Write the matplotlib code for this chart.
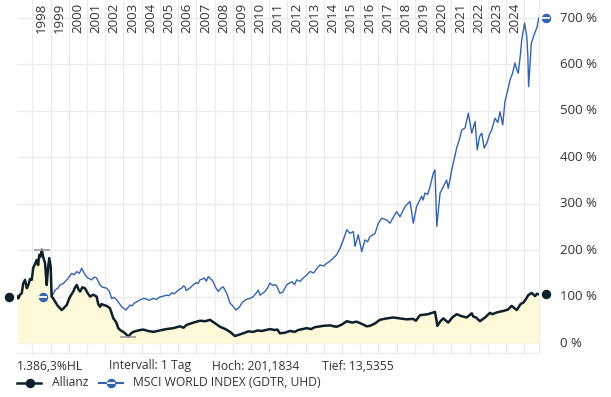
import matplotlib
matplotlib.use("Agg")
import matplotlib.pyplot as plt
import matplotlib.transforms as mtransforms
from matplotlib.lines import Line2D

#######################################################
# data (decimal years, % of start value)

allianz_t = [1997.18, 1997.23, 1997.32, 1997.42, 1997.50, 1997.60, 1997.70, 1997.78, 1997.88, 1997.97,
             1998.05, 1998.15, 1998.24, 1998.32, 1998.38, 1998.45, 1998.52, 1998.60, 1998.70, 1998.79,
             1998.86, 1998.93, 1999.01, 1999.06, 1999.15, 1999.25, 1999.40, 1999.61, 1999.75, 1999.89,
             2000.05, 2000.25, 2000.35, 2000.44, 2000.53, 2000.62, 2000.75, 2000.89, 2001.03, 2001.17,
             2001.35, 2001.53, 2001.62, 2001.72, 2001.80, 2001.90, 2002.08, 2002.26, 2002.45, 2002.60,
             2002.72, 2002.85, 2002.99, 2003.15, 2003.27, 2003.40, 2003.54, 2003.80, 2004.09, 2004.35,
             2004.64, 2005.00, 2005.35, 2005.74, 2006.10, 2006.30, 2006.47, 2006.85, 2007.20, 2007.50,
             2007.75, 2008.05, 2008.30, 2008.60, 2008.85, 2009.12, 2009.35, 2009.58, 2009.85, 2010.13,
             2010.35, 2010.60, 2011.04, 2011.30, 2011.45, 2011.59, 2011.85, 2012.14, 2012.40, 2012.60,
             2013.06, 2013.30, 2013.50, 2013.97, 2014.35, 2014.55, 2014.71, 2015.00, 2015.26, 2015.55,
             2015.80, 2016.15, 2016.35, 2016.53, 2016.80, 2017.08, 2017.45, 2017.81, 2018.20, 2018.55,
             2018.90, 2019.05, 2019.28, 2019.70, 2020.10, 2020.18, 2020.23, 2020.40, 2020.56, 2020.83,
             2021.05, 2021.29, 2021.55, 2021.84, 2022.12, 2022.20, 2022.35, 2022.57, 2022.85, 2023.12,
             2023.25, 2023.50, 2023.85, 2024.10, 2024.31, 2024.59, 2024.80, 2024.95, 2025.10, 2025.22,
             2025.41, 2025.59, 2025.70, 2025.80]
allianz_v = [100, 96, 104, 107, 128, 136, 118, 125, 138, 136,
             162, 170, 179, 168, 190, 186, 201, 185, 172, 125,
             160, 183, 164, 100, 96, 89, 80, 71, 76, 82,
             98, 111, 120, 125, 116, 111, 120, 118, 108, 100,
             104, 100, 84, 78, 84, 82, 80, 75, 53, 45,
             32, 27, 24, 19, 13.5, 20, 24, 27, 29, 26,
             24, 27, 30, 32, 36, 33, 39, 44, 48, 47,
             50, 42, 35, 30, 24, 15, 18, 21, 25, 24,
             27, 26, 30, 28, 29, 21, 22, 26, 24, 28,
             32, 30, 34, 37, 38, 36, 35, 40, 47, 44,
             46, 40, 36, 37, 42, 50, 53, 55, 53, 51,
             52, 48, 60, 62, 67, 50, 37, 47, 53, 44,
             55, 62, 58, 55, 64, 57, 55, 47, 55, 65,
             62, 66, 69, 72, 80, 71, 84, 87, 95, 103,
             108, 101, 106, 105]

msci_t = [1999.06, 1999.15, 1999.25, 1999.40, 1999.52, 1999.70, 1999.89, 2000.02, 2000.16, 2000.30,
          2000.44, 2000.58, 2000.71, 2000.89, 2001.05, 2001.26, 2001.40, 2001.53, 2001.70, 2001.81,
          2002.08, 2002.22, 2002.36, 2002.50, 2002.63, 2002.78, 2002.91, 2003.14, 2003.25, 2003.36,
          2003.48, 2003.60, 2003.75, 2003.91, 2004.10, 2004.25, 2004.40, 2004.64, 2004.80, 2005.00,
          2005.20, 2005.38, 2005.50, 2005.65, 2005.80, 2005.93, 2006.05, 2006.20, 2006.30, 2006.38,
          2006.45, 2006.56, 2006.70, 2006.85, 2007.00, 2007.10, 2007.20, 2007.35, 2007.45, 2007.55,
          2007.66, 2007.80, 2007.93, 2008.05, 2008.21, 2008.35, 2008.48, 2008.67, 2008.85, 2009.00,
          2009.18, 2009.38, 2009.50, 2009.58, 2009.70, 2009.85, 2010.00, 2010.13, 2010.30, 2010.40,
          2010.50, 2010.60, 2010.77, 2010.90, 2011.04, 2011.20, 2011.30, 2011.41, 2011.59, 2011.75,
          2011.96, 2012.10, 2012.25, 2012.40, 2012.51, 2012.70, 2012.87, 2013.05, 2013.24, 2013.45,
          2013.60, 2013.79, 2014.00, 2014.16, 2014.30, 2014.52, 2014.70, 2014.89, 2015.07, 2015.26,
          2015.44, 2015.62, 2015.71, 2015.89, 2016.08, 2016.26, 2016.40, 2016.53, 2016.81, 2016.99,
          2017.18, 2017.45, 2017.63, 2017.80, 2018.00, 2018.18, 2018.46, 2018.73, 2018.91, 2019.09,
          2019.37, 2019.45, 2019.55, 2019.70, 2019.83, 2020.01, 2020.10, 2020.20, 2020.38, 2020.60,
          2020.74, 2020.83, 2021.02, 2021.15, 2021.29, 2021.45, 2021.57, 2021.75, 2021.93, 2022.12,
          2022.30, 2022.42, 2022.55, 2022.67, 2022.80, 2022.94, 2023.10, 2023.21, 2023.40, 2023.55,
          2023.67, 2023.82, 2023.94, 2024.10, 2024.22, 2024.35, 2024.49, 2024.58, 2024.67, 2024.80,
          2024.86, 2025.02, 2025.14, 2025.20, 2025.24, 2025.39, 2025.57, 2025.70, 2025.80]
msci_v = [100, 106, 114, 118, 125, 128, 136, 142, 150, 147,
          154, 150, 161, 147, 140, 136, 142, 140, 126, 121,
          118, 112, 96, 98, 93, 85, 78, 71, 76, 82,
          80, 86, 89, 93, 96, 95, 92, 96, 94, 99,
          101, 103, 102, 108, 106, 111, 115, 118, 123, 121,
          113, 116, 120, 126, 130, 128, 136, 138, 140, 133,
          143, 138, 132, 120, 111, 118, 121, 107, 86, 80,
          71, 78, 86, 89, 93, 95, 97, 100, 108, 114,
          103, 106, 111, 118, 129, 124, 126, 123, 107, 110,
          125, 129, 132, 126, 136, 133, 140, 146, 154, 151,
          160, 168, 166, 172, 175, 183, 190, 204, 222, 244,
          236, 240, 208, 233, 197, 222, 218, 229, 236, 258,
          269, 265, 258, 270, 283, 272, 294, 305, 258, 294,
          316, 308, 323, 320, 337, 366, 373, 251, 323, 340,
          351, 333, 373, 395, 420, 440, 459, 463, 495, 452,
          477, 416, 445, 452, 420, 430, 450, 459, 484, 475,
          498, 470, 520, 545, 567, 580, 603, 590, 581, 625,
          653, 689, 660, 617, 552, 646, 667, 680, 700]

year_labels = list(range(1998, 2025))
pct_ticks = [0, 100, 200, 300, 400, 500, 600, 700]
info_texts = ["1.386,3%HL", "Intervall: 1 Tag", "Hoch: 201,1834", "Tief: 13,5355"]
series_names = ["Allianz", "MSCI WORLD INDEX (GDTR, UHD)"]

#######################################################

W, H = 611, 397
dark = "#0e202c"
blue = "#3363ad"
gridc = "#ebebeb"
textc = "#333333"
plt.rcParams["font.family"] = ["Open Sans", "DejaVu Sans"]

fig = plt.figure(figsize=(W / 100, H / 100), dpi=100)
ax = fig.add_axes([17 / W, 1 - 353 / H, (539 - 17) / W, 353 / H])

ax.set_xlim(1997.16, 2025.81)
ax.set_ylim(-21.5, 738.8)

ax.set_xticks(range(1998, 2026))
ax.set_yticks(pct_ticks)
ax.tick_params(length=0, labelbottom=False, labelleft=False)
ax.grid(True, color=gridc, lw=0.9)
ax.set_axisbelow(True)
for side in ["left", "top"]:
    ax.spines[side].set_visible(False)
for side in ["right", "bottom"]:
    ax.spines[side].set_color(gridc)
    ax.spines[side].set_linewidth(0.9)

# series
ax.fill_between(allianz_t, allianz_v, 0, color="#fdf9d9", lw=0, zorder=1)
ax.plot(msci_t, msci_v, color=blue, lw=1.0, zorder=3)
ax.plot(allianz_t, allianz_v, color=dark, lw=1.8, zorder=4, solid_joinstyle="round")

# high / low marks
i_hi = allianz_v.index(max(allianz_v))
i_lo = allianz_v.index(min(allianz_v))
ax.plot([allianz_t[i_hi], allianz_t[i_lo]], [allianz_v[i_hi], allianz_v[i_lo]],
        ls="none", marker="_", ms=11, mew=1.2, color="#9a9a9a", zorder=5)

# start / end markers
def endMarkers(t, v, color, bar):
    xs = [t[0] - 0.47, t[-1] + 0.4]
    ys = [v[0], v[-1]]
    ax.plot(xs, ys, ls="none", marker="o", ms=5.8, color=color, clip_on=False, zorder=6)
    if bar:
        ax.plot(xs, ys, ls="none", marker="_", ms=5.8, mew=1.3, color="white", clip_on=False, zorder=7)

endMarkers(allianz_t, allianz_v, dark, False)
endMarkers(msci_t, msci_v, blue, True)

# year labels on top
top = mtransforms.blended_transform_factory(ax.transData, fig.transFigure)
for y in year_labels:
    ax.text(y + 0.5, 1 - 3 / H, str(y), rotation=90, ha="center", va="top",
            fontsize=9.5, color=textc, transform=top)

# percent labels on the right
right = mtransforms.blended_transform_factory(fig.transFigure, ax.transData)
for p in pct_ticks:
    ax.text(560 / W, p, "%d %%" % p, ha="left", va="center", fontsize=9.5,
            color=textc, transform=right)

# info line
for txt, px in zip(info_texts, [17, 109, 212, 322]):
    fig.text(px / W, 1 - 366 / H, txt, ha="left", va="center", fontsize=8.7, color=textc)

# legend
ly = 1 - 383 / H
fig.add_artist(Line2D([17 / W, 41 / W], [ly, ly], color=dark, lw=1.8))
fig.add_artist(Line2D([29.5 / W], [ly], marker="o", ms=5.8, color=dark, ls="none"))
fig.text(52 / W, ly, series_names[0], ha="left", va="center", fontsize=8.7, color=textc)
fig.add_artist(Line2D([99 / W, 123 / W], [ly, ly], color=blue, lw=1.5))
fig.add_artist(Line2D([111 / W], [ly], marker="o", ms=5.8, color=blue, ls="none"))
fig.add_artist(Line2D([111 / W], [ly], marker="_", ms=5.8, mew=1.3, color="white", ls="none"))
fig.text(133 / W, ly, series_names[1], ha="left", va="center", fontsize=8.7, color=textc)

fig.savefig("out.png", dpi=100)
